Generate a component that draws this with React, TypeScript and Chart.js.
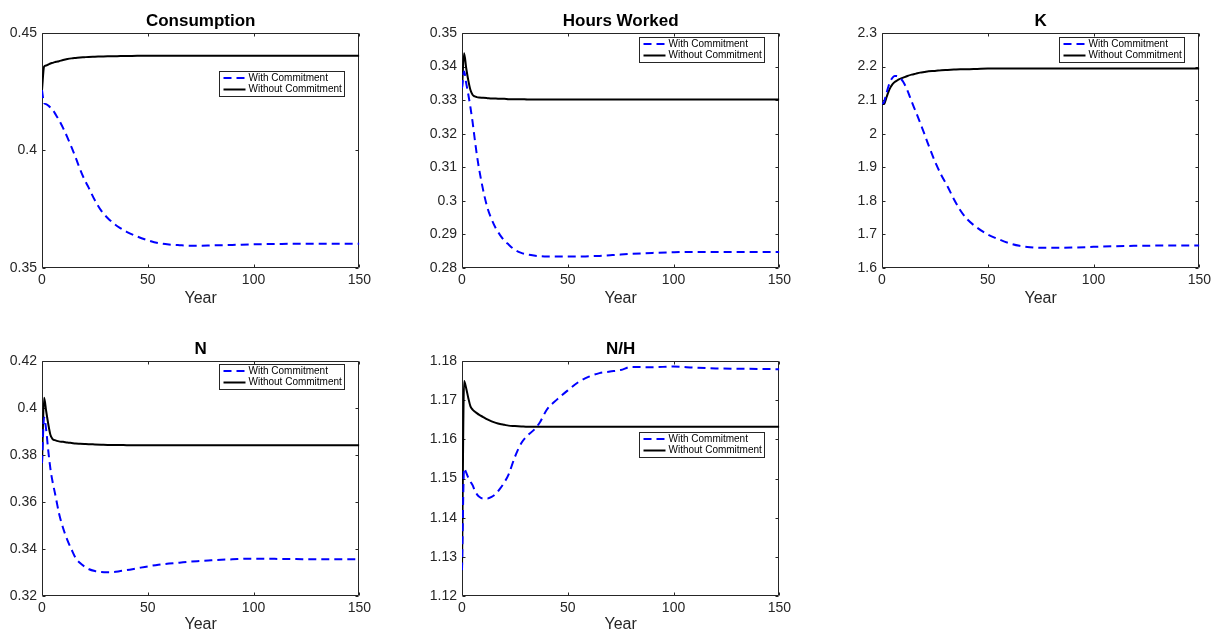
import React, { useEffect, useRef } from 'react';
import { Chart, registerables } from 'chart.js';

Chart.register(...registerables);

// ---------- data ----------
const years = [0, 1, 2, 3, 4, 5, 6, 7, 8, 10, 12, 14, 16, 18, 20, 22, 25, 28, 31, 34, 37, 40, 45, 50, 55, 60, 65, 70, 75, 80, 90, 100, 110, 120, 135, 150];

const seriesNames = ['With Commitment', 'Without Commitment'];
const xTickValues = [0, 50, 100, 150];

const consumptionWith = [0.4257, 0.4201, 0.4197, 0.4191, 0.4183, 0.4174, 0.416, 0.4145, 0.413, 0.4095, 0.4056, 0.4013, 0.3968, 0.392, 0.3878, 0.3843, 0.3788, 0.3744, 0.3713, 0.3689, 0.367, 0.3654, 0.3634, 0.3618, 0.3606, 0.36, 0.3597, 0.3595, 0.3595, 0.3596, 0.3598, 0.3601, 0.3602, 0.3603, 0.3603, 0.3603];
const consumptionWithout = [0.4257, 0.4357, 0.4362, 0.4366, 0.437, 0.4373, 0.4376, 0.4378, 0.438, 0.4385, 0.4389, 0.4392, 0.4394, 0.4396, 0.4397, 0.4398, 0.4399, 0.44, 0.4401, 0.4401, 0.4402, 0.4402, 0.4403, 0.4403, 0.4403, 0.4403, 0.4403, 0.4403, 0.4403, 0.4403, 0.4403, 0.4403, 0.4403, 0.4403, 0.4403, 0.4403];

const hoursWith = [0.3336, 0.3385, 0.335, 0.3316, 0.3278, 0.3235, 0.3185, 0.3138, 0.3098, 0.3032, 0.298, 0.2945, 0.2918, 0.2898, 0.2882, 0.287, 0.2854, 0.2845, 0.284, 0.2837, 0.2835, 0.2834, 0.2834, 0.2834, 0.2834, 0.2835, 0.2836, 0.2838, 0.284, 0.2842, 0.2845, 0.2847, 0.2848, 0.2848, 0.2848, 0.2848];
const hoursWithout = [0.3336, 0.344, 0.3395, 0.3358, 0.333, 0.3316, 0.3311, 0.3309, 0.3308, 0.3307, 0.3306, 0.3305, 0.3305, 0.3304, 0.3304, 0.3303, 0.3303, 0.3303, 0.3302, 0.3302, 0.3302, 0.3302, 0.3302, 0.3302, 0.3302, 0.3302, 0.3302, 0.3302, 0.3302, 0.3302, 0.3302, 0.3302, 0.3302, 0.3302, 0.3302, 0.3302];

const kWith = [2.0885, 2.095, 2.118, 2.14, 2.157, 2.167, 2.172, 2.172, 2.169, 2.155, 2.129, 2.096, 2.065, 2.033, 2.0, 1.966, 1.918, 1.877, 1.843, 1.805, 1.772, 1.747, 1.72, 1.7, 1.686, 1.674, 1.666, 1.662, 1.66, 1.66, 1.661, 1.663, 1.665, 1.666, 1.667, 1.667];
const kWithout = [2.0885, 2.0885, 2.106, 2.124, 2.138, 2.148, 2.154, 2.158, 2.162, 2.167, 2.172, 2.176, 2.179, 2.182, 2.184, 2.186, 2.187, 2.189, 2.19, 2.191, 2.192, 2.192, 2.193, 2.194, 2.194, 2.1945, 2.1945, 2.1945, 2.1945, 2.1945, 2.1945, 2.1945, 2.1945, 2.1945, 2.1945, 2.1945];

const nWith = [0.3765, 0.396, 0.3905, 0.3815, 0.374, 0.3686, 0.3643, 0.3598, 0.3553, 0.3488, 0.3438, 0.3397, 0.336, 0.334, 0.3326, 0.3315, 0.3306, 0.3302, 0.3301, 0.3302, 0.3306, 0.331, 0.3318, 0.3326, 0.3333, 0.3338, 0.3342, 0.3346, 0.3349, 0.3352, 0.3356, 0.3359, 0.3358, 0.3357, 0.3356, 0.3356];
const nWithout = [0.3765, 0.4044, 0.3985, 0.393, 0.3885, 0.3868, 0.3863, 0.386, 0.3858, 0.3856, 0.3853, 0.3851, 0.3849, 0.3848, 0.3847, 0.3846, 0.3845, 0.3844, 0.3843, 0.3843, 0.3843, 0.3842, 0.3842, 0.3842, 0.3842, 0.3842, 0.3842, 0.3842, 0.3842, 0.3842, 0.3842, 0.3842, 0.3842, 0.3842, 0.3842, 0.3842];

const nhWith = [1.1266, 1.1526, 1.1515, 1.1502, 1.1492, 1.1483, 1.147, 1.146, 1.1454, 1.1449, 1.1449, 1.1453, 1.1461, 1.1474, 1.149, 1.151, 1.1555, 1.159, 1.161, 1.1624, 1.1645, 1.1675, 1.1702, 1.1725, 1.1746, 1.176, 1.1769, 1.1773, 1.1777, 1.1785, 1.1784, 1.1786, 1.1783, 1.1781, 1.178, 1.1779];
const nhWithout = [1.1266, 1.1749, 1.173, 1.1705, 1.1684, 1.1676, 1.1671, 1.1667, 1.1663, 1.1657, 1.1651, 1.1646, 1.1642, 1.1639, 1.1637, 1.1635, 1.1634, 1.1633, 1.1632, 1.1632, 1.1632, 1.1632, 1.1632, 1.1632, 1.1632, 1.1632, 1.1632, 1.1632, 1.1632, 1.1632, 1.1632, 1.1632, 1.1632, 1.1632, 1.1632, 1.1632];

const titles = ['Consumption', 'Hours Worked', 'K', 'N', 'N/H'];
const yRanges = [
  [0.35, 0.45, 0.05],
  [0.28, 0.35, 0.01],
  [1.6, 2.3, 0.1],
  [0.32, 0.42, 0.02],
  [1.12, 1.18, 0.01],
];
const withSeries = [consumptionWith, hoursWith, kWith, nWith, nhWith];
const withoutSeries = [consumptionWithout, hoursWithout, kWithout, nWithout, nhWithout];

// ---------- layout (pixels) ----------
const PLOT_W = 320;
const PLOT_H = 235;
const LEFT_M = 42;
const TOP_M = 33;
const RIGHT_M = 13;
const panelLayout = [
  { left: 42, top: 33, bottomM: 40, yearOff: 31, legendTop: 38 },
  { left: 462, top: 33, bottomM: 40, yearOff: 31, legendTop: 4 },
  { left: 882, top: 33, bottomM: 40, yearOff: 31, legendTop: 4 },
  { left: 42, top: 361, bottomM: 35, yearOff: 29, legendTop: 3 },
  { left: 462, top: 361, bottomM: 35, yearOff: 29, legendTop: 71 },
];

const FONT = "'Liberation Sans', Arial, Helvetica, sans-serif";
const AXIS_COLOR = '#262626';
const BLUE = '#0000ff';
const DASH = [8, 5];

function fmt(v: number) {
  return String(parseFloat(Number(v).toFixed(4)));
}

function Panel({ idx }: { idx: number }) {
  const ref = useRef<HTMLCanvasElement | null>(null);
  const lay = panelLayout[idx];
  const cw = LEFT_M + PLOT_W + RIGHT_M;
  const ch = TOP_M + PLOT_H + lay.bottomM;

  useEffect(() => {
    if (!ref.current) return;
    const [yMin, yMax, yStep] = yRanges[idx];
    const frame = {
      id: 'matlabFrame' + idx,
      beforeDatasetsDraw(chart: any) {
        const { ctx, chartArea, scales } = chart;
        const l = Math.round(chartArea.left) + 0.5;
        const t = Math.round(chartArea.top) + 0.5;
        const r = Math.round(chartArea.right) - 0.5;
        const b = Math.round(chartArea.bottom) - 0.5;
        ctx.save();
        ctx.strokeStyle = AXIS_COLOR;
        ctx.lineWidth = 1;
        ctx.beginPath();
        ctx.rect(l, t, r - l, b - t);
        const tl = 3;
        scales.x.ticks.forEach((tk: any) => {
          const px = Math.round(scales.x.getPixelForValue(tk.value)) + 0.5;
          ctx.moveTo(px, b);
          ctx.lineTo(px, b - tl);
          ctx.moveTo(px, t);
          ctx.lineTo(px, t + tl);
        });
        scales.y.ticks.forEach((tk: any) => {
          const py = Math.round(scales.y.getPixelForValue(tk.value)) + 0.5;
          ctx.moveTo(l, py);
          ctx.lineTo(l + tl, py);
          ctx.moveTo(r, py);
          ctx.lineTo(r - tl, py);
        });
        ctx.stroke();
        ctx.restore();
      },
      afterDraw(chart: any) {
        const { ctx, chartArea } = chart;
        const cx = (chartArea.left + chartArea.right) / 2;
        ctx.save();
        ctx.textAlign = 'center';
        ctx.textBaseline = 'middle';
        ctx.fillStyle = '#000';
        ctx.font = `bold 17px ${FONT}`;
        ctx.fillText(titles[idx], cx, chartArea.top - 12);
        ctx.fillStyle = AXIS_COLOR;
        ctx.font = `16px ${FONT}`;
        ctx.fillText('Year', cx, chartArea.bottom + lay.yearOff);

        // legend
        const lx = Math.round(chartArea.left) + 177 + 0.5;
        const ly = Math.round(chartArea.top) + lay.legendTop + 0.5;
        const w = 125;
        const h = 25;
        ctx.fillStyle = '#fff';
        ctx.fillRect(lx, ly, w, h);
        ctx.strokeStyle = AXIS_COLOR;
        ctx.lineWidth = 1;
        ctx.strokeRect(lx, ly, w, h);
        const rows = [ly + 6.5, ly + 18];
        ctx.lineWidth = 2;
        ctx.strokeStyle = BLUE;
        ctx.setLineDash(DASH);
        ctx.beginPath();
        ctx.moveTo(lx + 4, rows[0]);
        ctx.lineTo(lx + 26, rows[0]);
        ctx.stroke();
        ctx.setLineDash([]);
        ctx.strokeStyle = '#000';
        ctx.beginPath();
        ctx.moveTo(lx + 4, rows[1]);
        ctx.lineTo(lx + 26, rows[1]);
        ctx.stroke();
        ctx.fillStyle = '#000';
        ctx.font = `10px ${FONT}`;
        ctx.textAlign = 'left';
        ctx.fillText(seriesNames[0], lx + 29, rows[0]);
        ctx.fillText(seriesNames[1], lx + 29, rows[1]);
        ctx.restore();
      },
    };

    const chart = new Chart(ref.current, {
      type: 'line',
      data: {
        datasets: [
          {
            label: seriesNames[0],
            data: years.map((x, i) => ({ x, y: withSeries[idx][i] })),
            borderColor: BLUE,
            borderWidth: 2,
            borderDash: DASH,
            pointRadius: 0,
            fill: false,
            cubicInterpolationMode: 'monotone',
          },
          {
            label: seriesNames[1],
            data: years.map((x, i) => ({ x, y: withoutSeries[idx][i] })),
            borderColor: '#000',
            borderWidth: 2,
            pointRadius: 0,
            fill: false,
            cubicInterpolationMode: 'monotone',
          },
        ],
      },
      options: {
        responsive: false,
        animation: false,
        events: [],
        layout: { padding: { left: 0, top: TOP_M, right: RIGHT_M, bottom: 0 } },
        plugins: {
          legend: { display: false },
          title: { display: false },
          tooltip: { enabled: false },
        },
        scales: {
          x: {
            type: 'linear',
            min: 0,
            max: 150,
            afterBuildTicks: (s: any) => {
              s.ticks = xTickValues.map((v) => ({ value: v }));
            },
            afterFit: (s: any) => {
              s.height = lay.bottomM;
            },
            grid: { display: false, drawTicks: false },
            border: { display: false },
            ticks: {
              autoSkip: false,
              maxRotation: 0,
              padding: 4,
              color: AXIS_COLOR,
              font: { family: FONT, size: 14 },
              callback: (v: any) => fmt(v),
            },
          },
          y: {
            type: 'linear',
            min: yMin,
            max: yMax,
            afterFit: (s: any) => {
              s.width = LEFT_M;
            },
            grid: { display: false, drawTicks: false },
            border: { display: false },
            ticks: {
              stepSize: yStep,
              autoSkip: false,
              padding: 5,
              color: AXIS_COLOR,
              font: { family: FONT, size: 14 },
              callback: (v: any) => fmt(v),
            },
          },
        },
      },
      plugins: [frame],
    } as any);
    return () => chart.destroy();
  }, [idx]);

  return (
    <canvas
      ref={ref}
      width={cw}
      height={ch}
      style={{
        position: 'absolute',
        left: lay.left - LEFT_M,
        top: lay.top - TOP_M,
        width: cw,
        height: ch,
      }}
    />
  );
}

export default function App() {
  return (
    <div
      style={{
        position: 'absolute',
        left: 0,
        top: 0,
        width: 1215,
        height: 631,
        background: '#fff',
        overflow: 'hidden',
      }}
    >
      {titles.map((_, i) => (
        <Panel key={i} idx={i} />
      ))}
    </div>
  );
}
